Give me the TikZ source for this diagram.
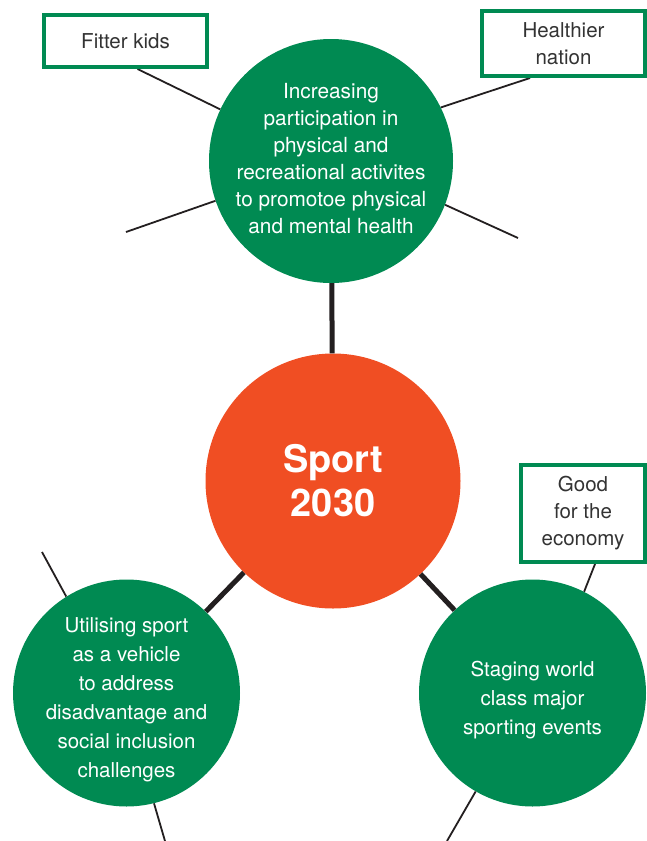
\documentclass[tikz,border=0pt]{standalone}
\usepackage{fontspec}
\setmainfont{TeX Gyre Heros}
\usetikzlibrary{calc}
\definecolor{sportgreen}{RGB}{0,138,82}
\definecolor{sportorange}{RGB}{240,78,35}
\definecolor{linegrey}{RGB}{35,31,32}
\definecolor{textgrey}{RGB}{51,51,51}
\tikzset{
    goal/.style={circle,fill=sportgreen,text=white,inner sep=-30pt,align=center},
    hub/.style={circle,fill=sportorange,text=white,inner sep=0pt,align=center,
        minimum size=255pt,font=\fontsize{38}{44}\selectfont\bfseries},
    outcome/.style={rectangle,draw=sportgreen,line width=4pt,fill=white,text=textgrey,
        inner sep=0pt,align=center,font=\fontsize{20.5}{27}\selectfont},
    link/.style={draw=linegrey,line width=5pt},
    spoke/.style={draw=linegrey,line width=1.8pt}
}

\begin{document}
\begin{tikzpicture}[x=1pt,y=-1pt]
    \useasboundingbox (0,0) rectangle (647,841);

    % centre and goals
    \node[hub] (sport) at (333,481) {Sport\\2030};
    \node[goal,minimum size=244pt,font=\fontsize{20.8}{27}\selectfont] (health) at (331,161)
        {Increasing\\participation in\\physical and\\recreational activites\\to promotoe physical\\and mental health\rule[-6pt]{0pt}{0pt}};
    \node[goal,minimum size=227pt,font=\fontsize{20.5}{29}\selectfont] (inclusion) at (126.5,693)
        {\rule{0pt}{29pt}Utilising sport\\as a vehicle\\to address\\disadvantage and\\social inclusion\\challenges};
    \node[goal,minimum size=227pt,font=\fontsize{20.5}{29}\selectfont] (events) at (532.5,693)
        {\rule{0pt}{30pt}Staging world\\class major\\sporting events};

    \foreach \g in {health,inclusion,events}
        \draw[link] (sport) -- (\g);

    % outcomes
    \coordinate (topwest) at (126,232);
    \coordinate (topeast) at (518,238);
    \coordinate (leftup) at (42,552);
    \coordinate (leftdown) at (165,841);
    \coordinate (rightdown) at (447,841);

    \draw[spoke] (health.155) -- ($(125.5,41)+(12,28)$);
    \draw[spoke] (health.199) -- (topwest);
    \draw[spoke] (health.26) -- ($(563.5,43.5)+(-33.5,34.5)$);
    \draw[spoke] (health.-21) -- (topeast);
    \draw[spoke] (inclusion.122) -- (leftup);
    \draw[spoke] (inclusion.-76) -- (leftdown);
    \draw[spoke] (events.63) -- ($(583,513.5)+(13,48)$);
    \draw[spoke] (events.-120) -- (rightdown);

    \node[outcome,minimum width=163pt,minimum height=52pt] (kids) at (125.5,41) {Fitter kids};
    \node[outcome,minimum width=163pt,minimum height=65pt] (nation) at (563.5,43.5) {Healthier\\nation};
    \node[outcome,minimum width=124pt,minimum height=97pt] (economy) at (583,513.5) {Good\\for the\\economy};
\end{tikzpicture}
\end{document}
